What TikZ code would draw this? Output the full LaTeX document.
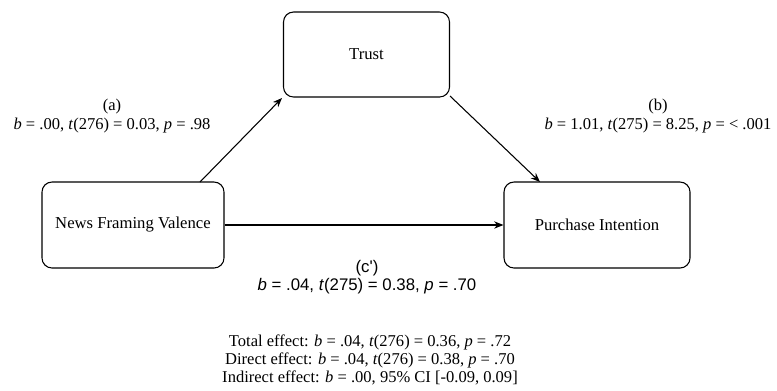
\documentclass[tikz,border=0pt]{standalone}
\usepackage{fontspec}
\setmainfont{Liberation Serif}
\newfontfamily\arialfont{Liberation Sans}
\usetikzlibrary{arrows.meta}
\newcommand{\vi}[1]{\textit{#1}}
\begin{document}
\begin{tikzpicture}[x=0.75pt,y=-0.75pt,
  box/.style={draw, rounded corners=7.5pt, line width=0.8pt, inner sep=0pt, font=\fontsize{12.5}{14}\selectfont},
  conn/.style={-{Stealth[length=7pt,width=5.5pt]}, line width=0.8pt},
  lab/.style={align=center, font=\fontsize{12.4}{14}\selectfont, inner sep=0pt}]
\useasboundingbox (0,0) rectangle (777,390);
\node[box, minimum width=166*0.75pt, minimum height=85*0.75pt] (trust) at (366.5,54.5) {Trust};
\node[box, minimum width=182*0.75pt, minimum height=86*0.75pt] (news) at (133,225) {News Framing Valence};
\node[box, minimum width=186*0.75pt, minimum height=86*0.75pt] (purch) at (597,225) {Purchase Intention};
\coordinate (aS) at (200,182);
\coordinate (aE) at (282,98);
\coordinate (bS) at (450,96);
\coordinate (bE) at (540,182);
\draw[conn] (aS) -- (aE);
\draw[conn] (bS) -- (bE);
\draw[conn] (news.east) -- (purch.west);
\node[lab] (la) at (112,116) {(a)\\\vi{b} = .00, \vi{t}(276) = 0.03, \vi{p} = .98};
\node[lab] (lb) at (658,116) {(b)\\\vi{b} = 1.01, \vi{t}(275) = 8.25, \vi{p} = < .001};
\node[lab, font=\arialfont\fontsize{12.6}{14}\selectfont] (lc) at (367,277) {(c')\\\vi{b} = .04, \vi{t}(275) = 0.38, \vi{p} = .70};
\node[lab, font=\fontsize{12.4}{13.5}\selectfont] (tot) at (370,360) {Total effect: \vi{b} = .04, \vi{t}(276) = 0.36, \vi{p} = .72\\Direct effect: \vi{b} = .04, \vi{t}(276) = 0.38, \vi{p} = .70\\Indirect effect: \vi{b} = .00, 95\% CI [-0.09, 0.09]};
\end{tikzpicture}
\end{document}
